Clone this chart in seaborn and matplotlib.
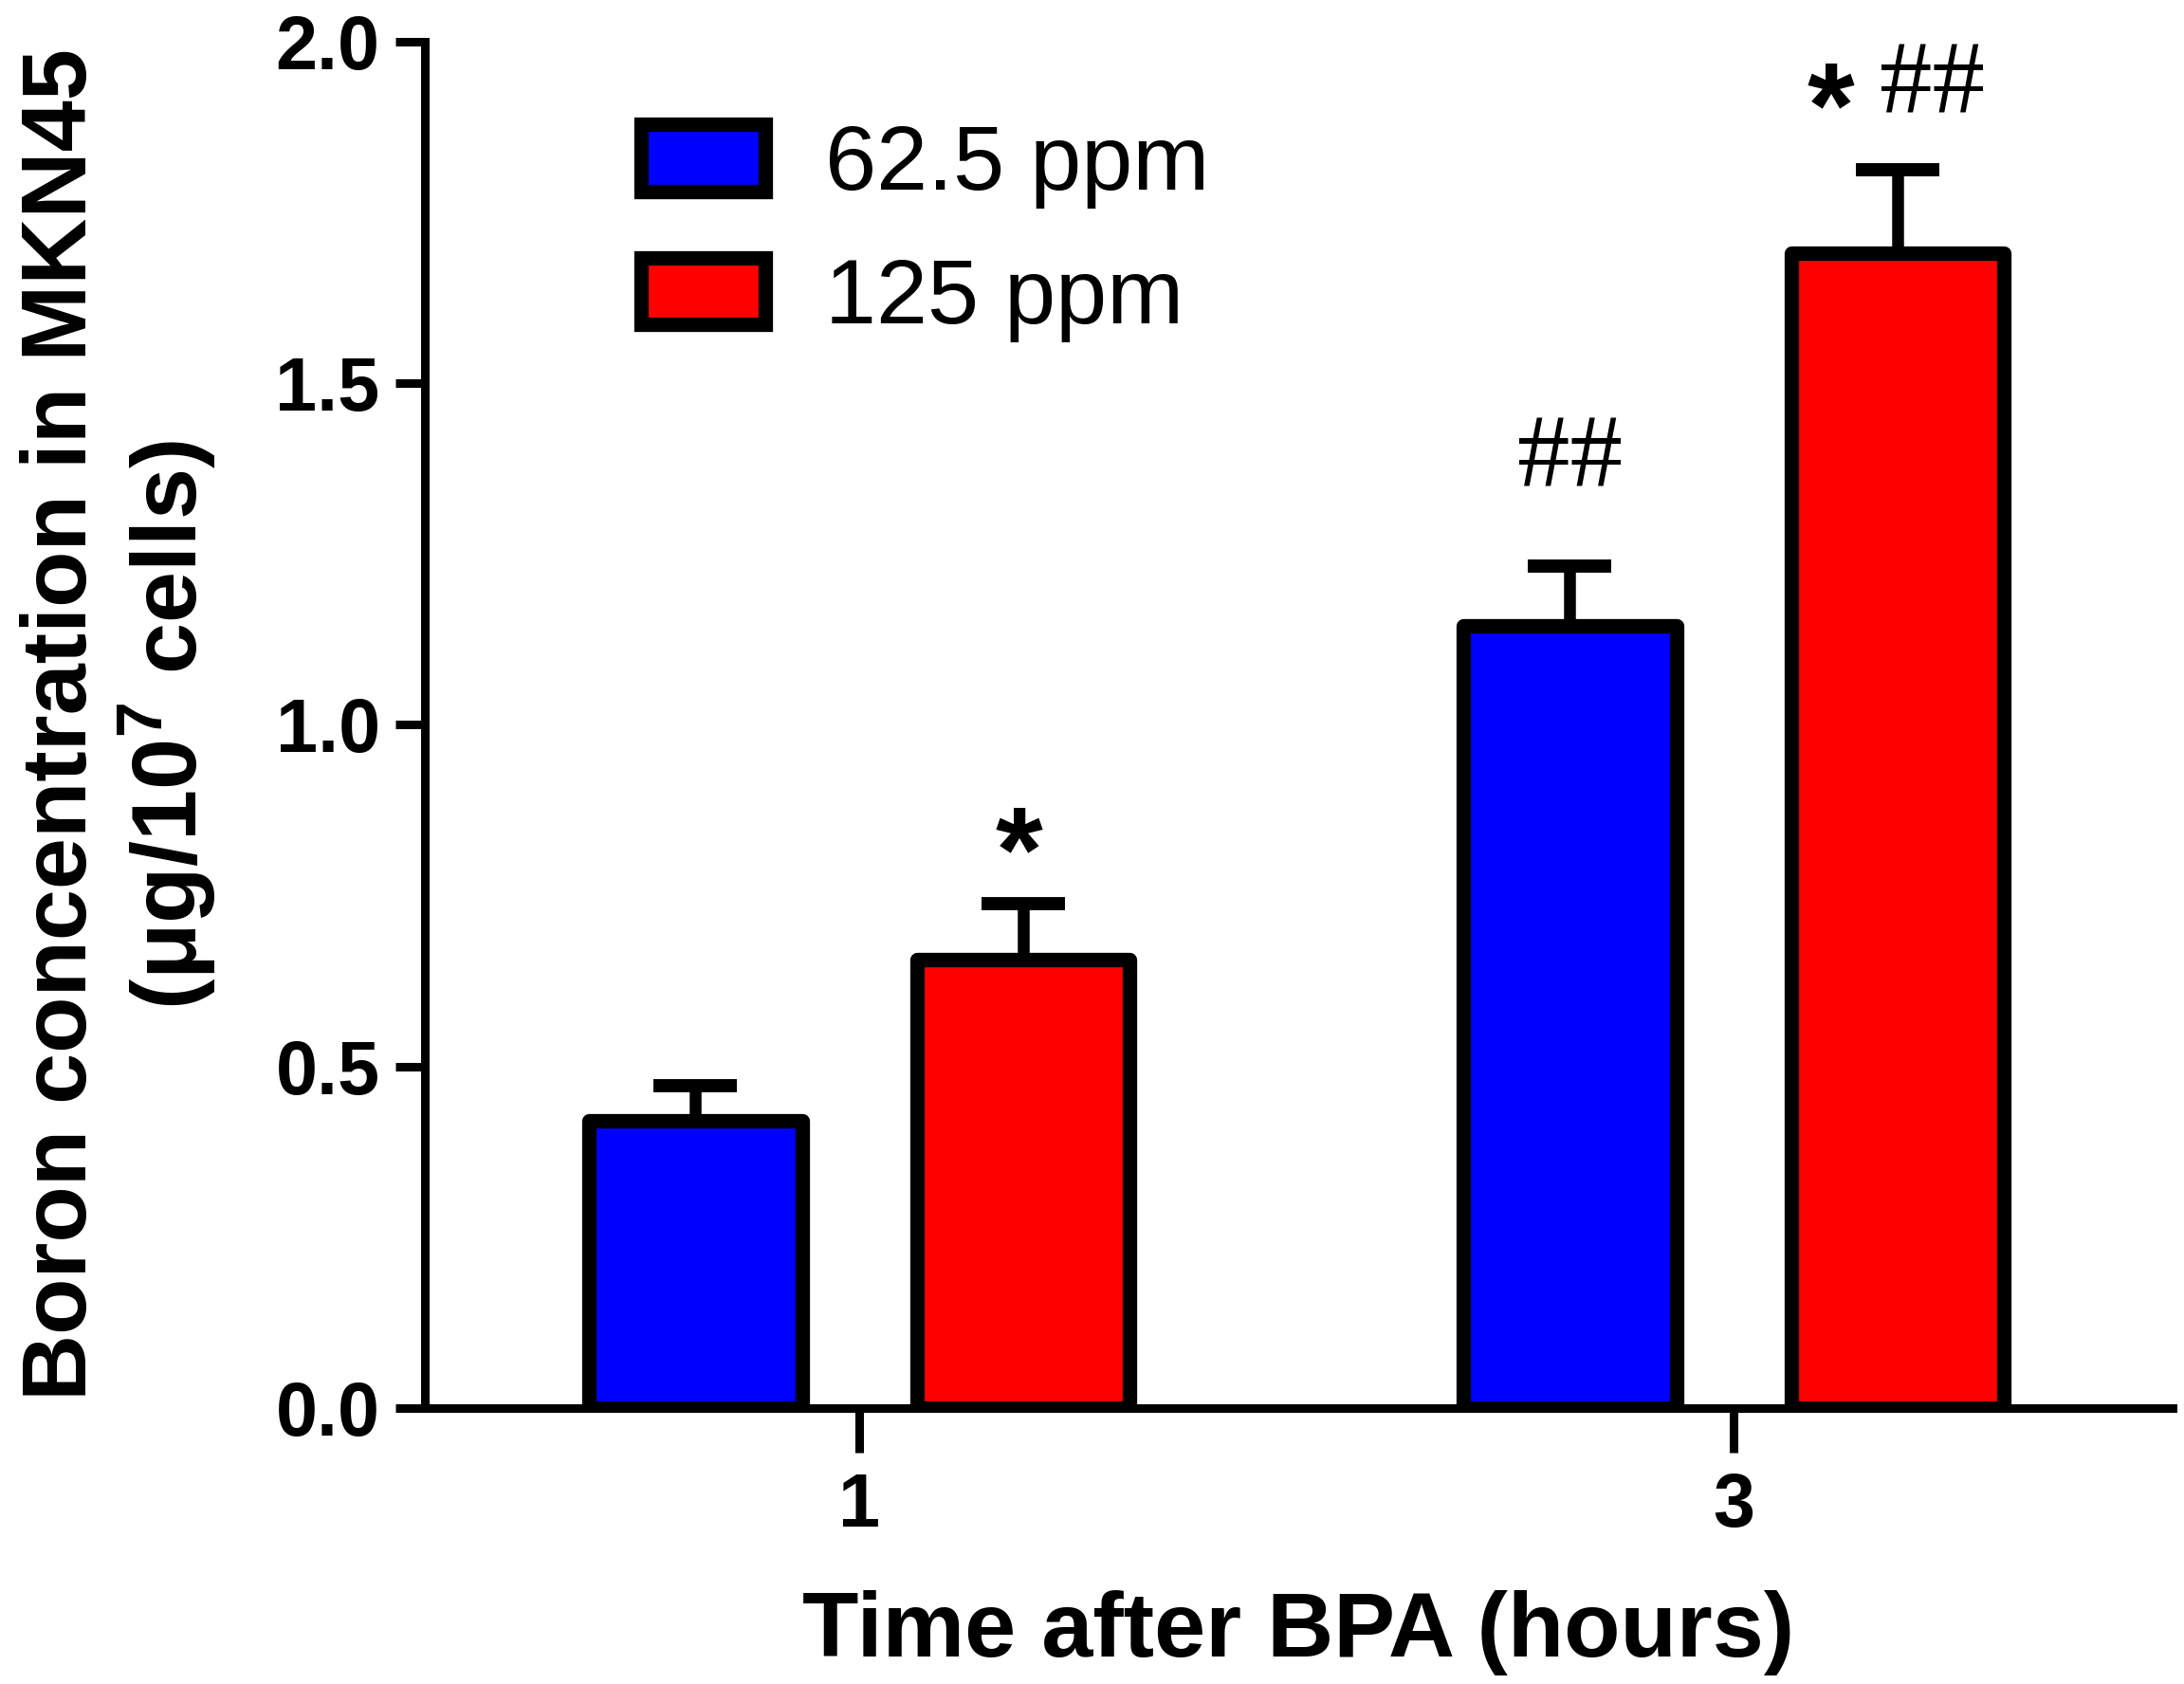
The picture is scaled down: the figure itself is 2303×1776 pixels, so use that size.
import matplotlib
matplotlib.use("Agg")
import matplotlib.pyplot as plt
import seaborn as sns
import pandas as pd

# ---- data ----
times = ["1", "3"]
doses = ["62.5 ppm", "125 ppm"]
mean_625 = [0.42, 1.145]
mean_125 = [0.656, 1.69]
sem_625 = [0.052, 0.088]
sem_125 = [0.082, 0.122]
colors = ["#0000FF", "#FF0000"]
annot_625 = ["", "##"]
annot_125 = ["*", "* ##"]

sns.set_theme(style="ticks")
plt.rcParams["font.family"] = ["Liberation Sans", "DejaVu Sans"]
plt.rcParams["mathtext.fontset"] = "custom"
plt.rcParams["mathtext.it"] = "Liberation Sans:italic:bold"
plt.rcParams["mathtext.rm"] = "Liberation Sans:bold"
for key in ["text.color", "axes.labelcolor", "xtick.color", "ytick.color",
            "axes.edgecolor"]:
    plt.rcParams[key] = "black"

df = pd.DataFrame({
    "time": times * 2,
    "dose": [doses[0]] * 2 + [doses[1]] * 2,
    "conc": mean_625 + mean_125,
})

fig = plt.figure(figsize=(23.03, 17.76), dpi=100)
ax = fig.add_axes([0.1945, 0.1639, 0.8003, 0.8113])

sns.barplot(data=df, x="time", y="conc", hue="dose", order=times,
            hue_order=doses, palette=colors, width=0.75, gap=0.35,
            errorbar=None, edgecolor="black", linewidth=11, saturation=1,
            ax=ax, legend=False, zorder=3)

bar_conts = list(ax.containers)
errs = [sem_625, sem_125]
means = [mean_625, mean_125]
annots = [annot_625, annot_125]
for k, cont in enumerate(bar_conts):
    for j, bar in enumerate(cont.patches):
        bar.set_joinstyle("round")
        xc = bar.get_x() + bar.get_width() / 2
        eb = ax.errorbar([xc], [means[k][j]], yerr=[[0], [errs[k][j]]], fmt="none",
                         ecolor="black", elinewidth=9, capsize=32, capthick=10,
                         zorder=2)
        for cap in eb.lines[1]:
            cap.set_solid_capstyle("round")
        top = means[k][j] + errs[k][j]
        txt = annots[k][j]
        if txt == "*":
            ax.annotate("*", (xc, top), xytext=(-3, 10), textcoords="offset points",
                        ha="center", va="baseline", fontsize=92, fontweight="bold")
        elif txt == "##":
            ax.annotate("##", (xc, top), xytext=(0, 60), textcoords="offset points",
                        ha="center", va="baseline", fontsize=80,
                        family="Liberation Serif")
        elif txt == "* ##":
            ax.annotate("*", (xc, top), xytext=(-51, 18), textcoords="offset points",
                        ha="center", va="baseline", fontsize=92, fontweight="bold")
            ax.annotate("##", (xc, top), xytext=(26, 43), textcoords="offset points",
                        ha="center", va="baseline", fontsize=80,
                        family="Liberation Serif")

ax.set_xlim(-0.497, 1.502)
ax.set_ylim(0, 2.0)
ax.set_yticks([0.0, 0.5, 1.0, 1.5, 2.0])
ax.set_yticklabels(["0.0", "0.5", "1.0", "1.5", "2.0"])
sns.despine(ax=ax)
for s in ["left", "bottom"]:
    ax.spines[s].set_linewidth(6.5)
    ax.spines[s].set_color("black")
ax.tick_params(axis="y", length=22, width=6.5, labelsize=57, pad=12, color="black",
               labelcolor="black")
ax.tick_params(axis="x", length=34, width=6.5, labelsize=57, pad=14, color="black",
               labelcolor="black")
for lab in ax.get_xticklabels() + ax.get_yticklabels():
    lab.set_fontweight("bold")

ax.set_xlabel("Time after BPA (hours)", fontsize=70, fontweight="bold", color="black")
ax.set_ylabel("Boron concentration in MKN45\n(\u03bcg/10$^{7}$ cells)",
              fontsize=70, fontweight="bold", linespacing=1.15, color="black")
ax.xaxis.set_label_coords(0.5, -0.133)
ax.yaxis.set_label_coords(-0.118, 0.5)

handles = [c.patches[0] for c in bar_conts]
leg = ax.legend(handles, doses, loc="upper left", bbox_to_anchor=(0.1237, 0.94),
                frameon=False, fontsize=70, handlelength=1.35, handleheight=0.74,
                handletextpad=0.65, labelspacing=0.52, borderpad=0, borderaxespad=0)
for t in leg.get_texts():
    t.set_color("black")

fig.savefig("out.png", dpi=100)
